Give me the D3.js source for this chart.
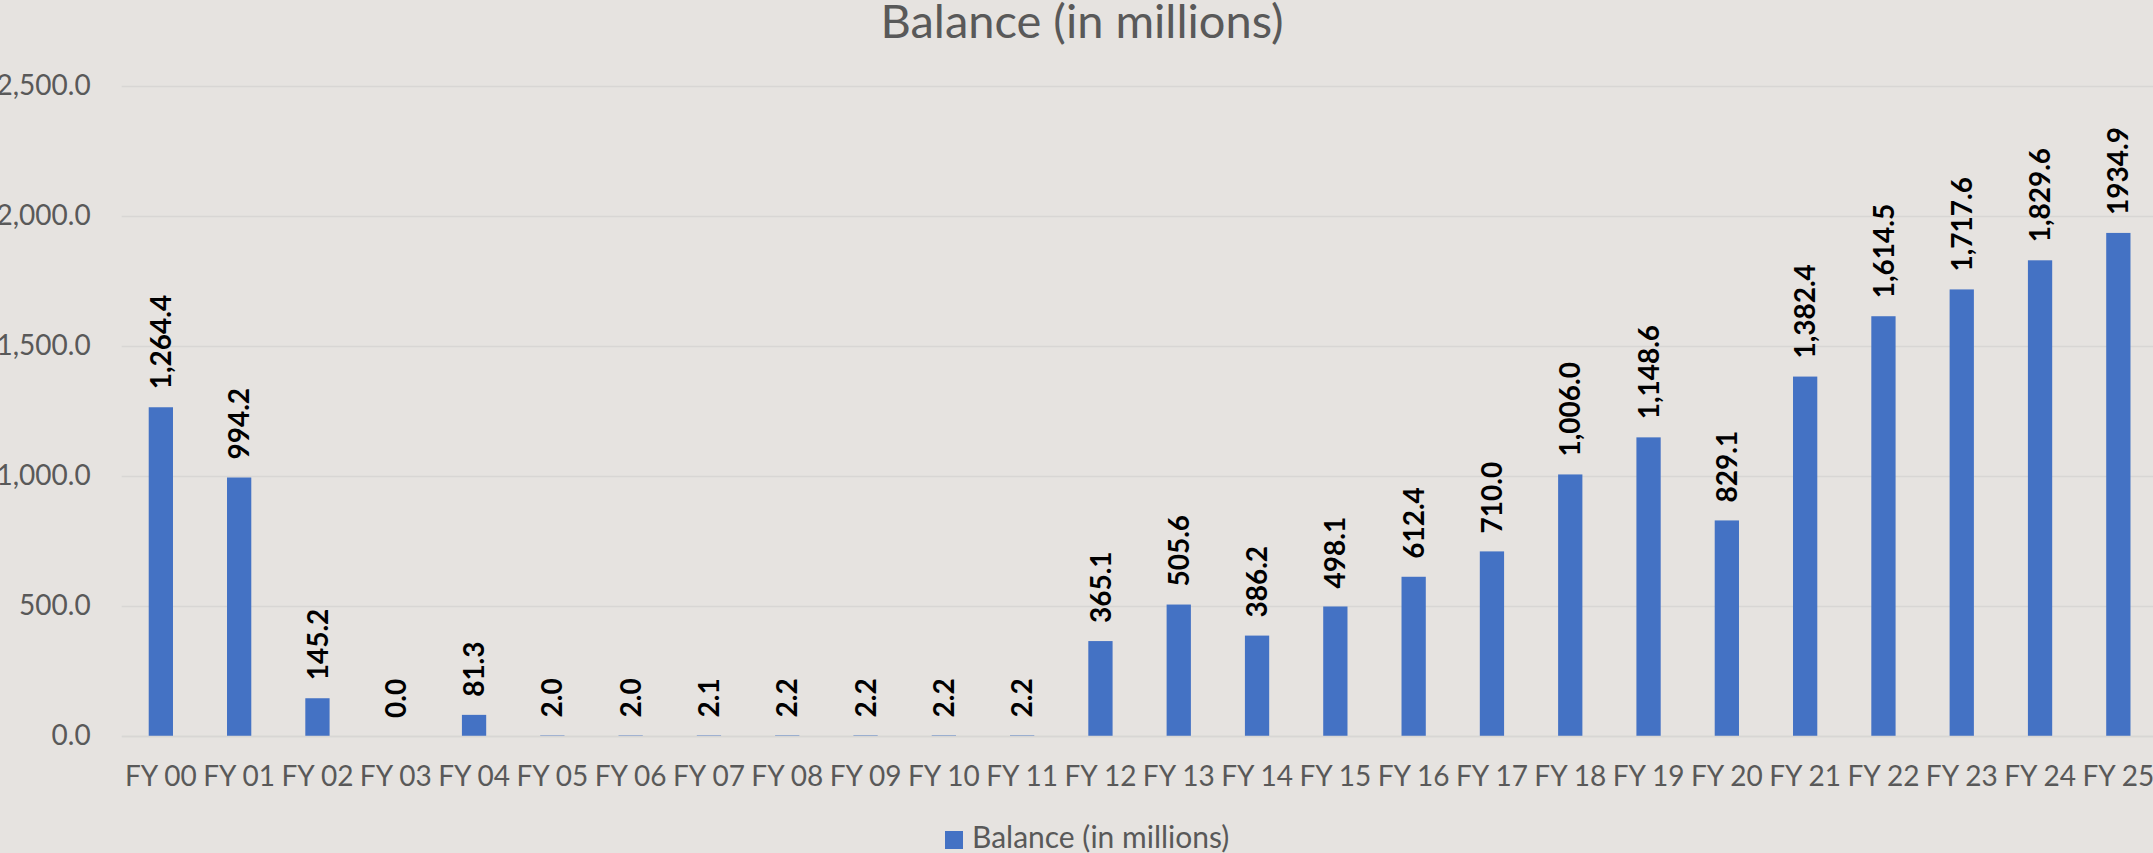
<!DOCTYPE html>
<html>
<head>
    <title>Balance</title>
    <meta charset="utf-8">
    <script src="https://d3js.org/d3.v7.min.js"></script>
    <style>
      body { margin:0; background:#e6e3e0; overflow:hidden; }
      text { font-family: Lato, "Open Sans", sans-serif; }
    </style>
</head>
<body>
<script>
// data
var years = ["FY 00","FY 01","FY 02","FY 03","FY 04","FY 05","FY 06","FY 07","FY 08","FY 09","FY 10","FY 11","FY 12",
             "FY 13","FY 14","FY 15","FY 16","FY 17","FY 18","FY 19","FY 20","FY 21","FY 22","FY 23","FY 24","FY 25"];
var balance = [1264.4,994.2,145.2,0.0,81.3,2.0,2.0,2.1,2.2,2.2,2.2,2.2,365.1,
               505.6,386.2,498.1,612.4,710.0,1006.0,1148.6,829.1,1382.4,1614.5,1717.6,1829.6,1934.9];
var valueLabels = ["1,264.4","994.2","145.2","0.0","81.3","2.0","2.0","2.1","2.2","2.2","2.2","2.2","365.1",
                   "505.6","386.2","498.1","612.4","710.0","1,006.0","1,148.6","829.1","1,382.4","1,614.5","1,717.6","1,829.6","1934.9"];
var yTicks = [0,500,1000,1500,2000,2500];
var seriesName = "Balance (in millions)";

const w = 2153, h = 853;
const plotL = 121.7, plotR = 2157.5, plotT = 86, plotB = 736;

const svg = d3.select("body").append("svg")
    .attr("width", w).attr("height", h);

const xScale = d3.scaleBand()
    .domain(years)
    .range([plotL, plotR])
    .paddingInner(0.69)
    .paddingOuter(0.345);
const yScale = d3.scaleLinear()
    .domain([0, 2500])
    .range([plotB, plotT]);

const fmt = d3.format(",.1f");

// gridlines
const yAxis = d3.axisLeft(yScale)
    .tickValues(yTicks)
    .tickSize(-(plotR - plotL))
    .tickPadding(31)
    .tickFormat(fmt);
const gy = svg.append("g")
    .attr("transform", "translate(" + plotL + ",0)")
    .call(yAxis);
gy.select(".domain").remove();
gy.selectAll("line").attr("stroke", "#d8d6d4").attr("stroke-width", 1.5);
gy.selectAll("text").attr("fill", "#595959").style("font-size", "28px");

// bars
svg.selectAll("rect.bar")
    .data(balance)
    .enter()
    .append("rect")
    .attr("class", "bar")
    .attr("x", (d, i) => xScale(years[i]))
    .attr("y", d => yScale(d))
    .attr("width", xScale.bandwidth())
    .attr("height", d => plotB - yScale(d))
    .attr("fill", "#4472c4");

// value labels
svg.selectAll("text.val")
    .data(balance)
    .enter()
    .append("text")
    .attr("class", "val")
    .attr("transform", (d, i) => "translate(" + (xScale(years[i]) + xScale.bandwidth() / 2) + "," + (yScale(d) - 18) + ") rotate(-90)")
    .attr("dy", "0.36em")
    .attr("text-anchor", "start")
    .attr("fill", "#000")
    .style("font-size", "28px")
    .style("font-weight", "bold")
    .text((d, i) => valueLabels[i]);

// x axis
const xAxis = d3.axisBottom(xScale).tickSize(0).tickPadding(30);
const gx = svg.append("g")
    .attr("transform", "translate(0," + plotB + ")")
    .call(xAxis);
gx.select(".domain").attr("stroke", "#d8d6d4").attr("stroke-width", 1.5);
gx.selectAll("text").attr("fill", "#595959").style("font-size", "28px");

// title
svg.append("text")
    .attr("x", 1082)
    .attr("y", 38)
    .attr("text-anchor", "middle")
    .attr("fill", "#595959")
    .style("font-size", "47px")
    .text(seriesName);

// legend
svg.append("rect")
    .attr("x", 945).attr("y", 831)
    .attr("width", 18).attr("height", 18)
    .attr("fill", "#4472c4");
svg.append("text")
    .attr("x", 972).attr("y", 848)
    .attr("fill", "#595959")
    .style("font-size", "30px")
    .text(seriesName);
</script>
</body>
</html>
